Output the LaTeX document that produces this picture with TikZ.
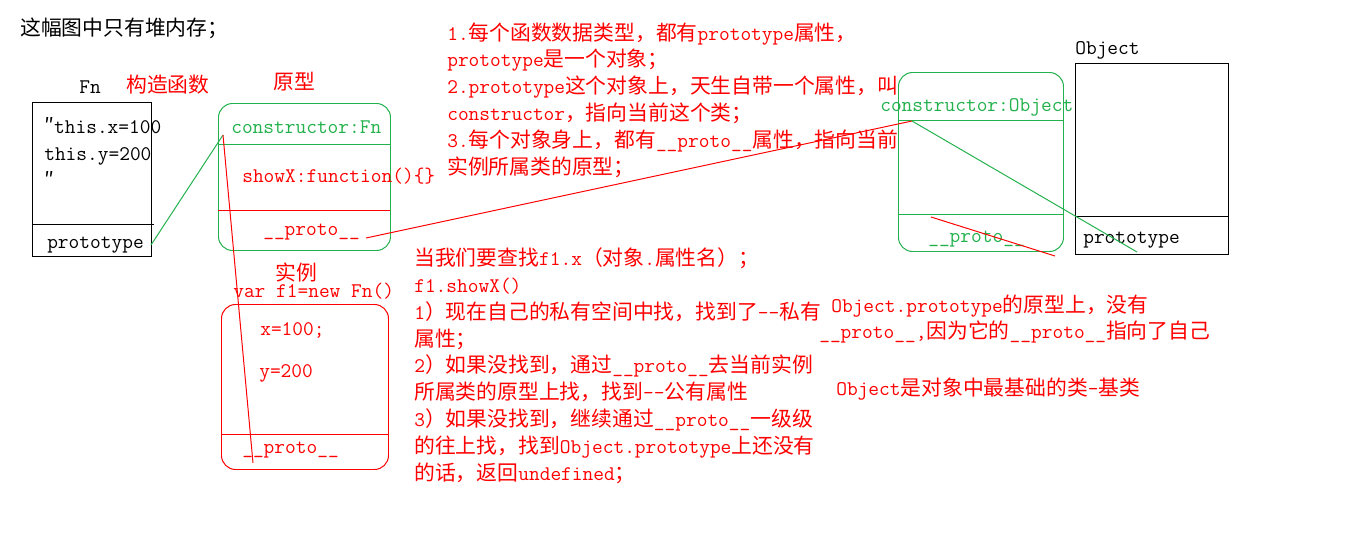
\documentclass[tikz,border=0pt]{standalone}
\usepackage{fontspec}
\newfontfamily\cjk{Noto Sans CJK SC}
\usetikzlibrary{positioning}
\definecolor{jsred}{RGB}{255,0,0}
\definecolor{jsgreen}{RGB}{34,177,76}
\newlength\px
\setlength\px{0.025cm}
\newcommand\zh[1]{{\cjk #1}}
\newcommand\uproto{\_\_proto\_\_}
\tikzset{
  lbl/.style={font=\fontsize{14.8pt}{19.05pt}\selectfont\ttfamily, inner sep=0pt, anchor=base west},
  redlbl/.style={lbl, text=jsred},
  greenlbl/.style={lbl, text=jsgreen},
  note/.style={redlbl, align=left},
  plainbox/.style={draw, line width=0.7pt, inner sep=0pt, anchor=north west},
  protobox/.style={plainbox, draw=jsgreen, rounded corners=10pt},
  instbox/.style={plainbox, draw=jsred, rounded corners=10pt},
  redln/.style={jsred, line width=0.7pt},
  greenln/.style={jsgreen, line width=0.7pt},
}

\begin{document}
\begin{tikzpicture}[x=0.025cm, y=-0.025cm]
\fill[white] (0,0) rectangle (1360,540);
\useasboundingbox (0,0) rectangle (1360,540);

% heading
\node[lbl] (title) at (20,35) {\zh{这幅图中只有堆内存；}};

% constructor Fn (multi-line nodes sit on their last baseline)
\node[lbl] (fnname) at (79,93) {Fn};
\node[redlbl] (fnnote) at (126,92) {\zh{构造函数}};
\node[plainbox, minimum width=119\px, minimum height=154\px] (fnbox) at (32,102) {};
\draw[line width=0.7pt] (32,224) -- (154,224);
\node[lbl, align=left] (fnbody) at (44,187) {\zh{″}this.x=100\\this.y=200\\\zh{″}};
\node[lbl] (fnproto) at (47,248) {prototype};

% prototype of Fn
\node[redlbl] (pnote) at (273,89) {\zh{原型}};
\node[protobox, minimum width=172\px, minimum height=147\px] (pbox) at (218,103) {};
\draw[greenln] (218,144) -- (390,144);
\draw[redln] (218,210) -- (390,210);
\node[greenlbl] (pctortxt) at (231,133) {constructor:Fn};
\node[redlbl] (pshow) at (242,182) {showX:function()\{\}};
\node[redlbl] (pprototxt) at (263,235) {\uproto};

% instance f1
\node[redlbl] (inote) at (275,280) {\zh{实例}};
\node[redlbl] (inew) at (233,297) {var f1=new Fn()};
\node[instbox, minimum width=167\px, minimum height=165\px] (ibox) at (221,304) {};
\draw[redln] (221,434) -- (388,434);
\node[redlbl] (ix) at (260,335) {x=100;};
\node[redlbl] (iy) at (259,377) {y=200};
\node[redlbl] (iprototxt) at (242,453) {\uproto};

% Object.prototype
\node[protobox, minimum width=165\px, minimum height=179\px] (opbox) at (898,72) {};
\draw[greenln] (898,120) -- (1063,120);
\draw[greenln] (898,214) -- (1063,214);
\node[greenlbl] (opctortxt) at (880,111) {constructor:Object};
\node[greenlbl] (opprototxt) at (928,242) {\uproto};

% Object
\node[lbl] (objname) at (1075,54) {Object};
\node[plainbox, minimum width=153\px, minimum height=191\px] (objbox) at (1075,63) {};
\draw[line width=0.7pt] (1075,216) -- (1229,216);
\node[lbl] (objproto) at (1083,243) {prototype};

% notes
\begin{scope}
\clip (440,0) rectangle (901,200);
\node[note] (rules) at (447,174) {1.\zh{每个函数数据类型，都有}prototype\zh{属性，}\\
prototype\zh{是一个对象；}\\
2.prototype\zh{这个对象上，天生自带一个属性，叫}\\
constructor\zh{，指向当前这个类；}\\
3.\zh{每个对象身上，都有}\uproto\zh{属性，指向当前}\\
\zh{实例所属类的原型；}};
\end{scope}

\node[note] (lookup) at (414,480) {\zh{当我们要查找}f1.x\zh{（对象}.\zh{属性名）；}\\
f1.showX()\\
1\zh{）现在自己的私有空间中找，找到了}-{}-\zh{私有}\\
\zh{属性；}\\
2\zh{）如果没找到，通过}\uproto\zh{去当前实例}\\
\zh{所属类的原型上找，找到}-{}-\zh{公有属性}\\
3\zh{）如果没找到，继续通过}\uproto\zh{一级级}\\
\zh{的往上找，找到}Object.prototype\zh{上还没有}\\
\zh{的话，返回}undefined\zh{；}};

\node[redlbl] (objnoteA) at (831,312) {Object.prototype\zh{的原型上，没有}};
\node[redlbl] (objnoteB) at (819,338) {\uproto,\zh{因为它的}\uproto\zh{指向了自己}};
\node[redlbl] (objnoteC) at (836,395) {Object\zh{是对象中最基础的类}-\zh{基类}};

% pointers
\coordinate (fnptr) at (151,245);
\coordinate (pctor) at (223,135);
\coordinate (iproto) at (253,463);
\coordinate (pproto) at (366,238);
\coordinate (opctor) at (912,121);
\coordinate (objptr) at (1137,252);
\coordinate (strikeA) at (931,217);
\coordinate (strikeB) at (1055,256);

\draw[greenln] (fnptr) -- (pctor);
\draw[redln] (iproto) -- (pctor);
\draw[redln] (pproto) -- (opctor);
\draw[greenln] (opctor) -- (objptr);
\draw[redln] (strikeA) -- (strikeB);

\end{tikzpicture}
\end{document}
